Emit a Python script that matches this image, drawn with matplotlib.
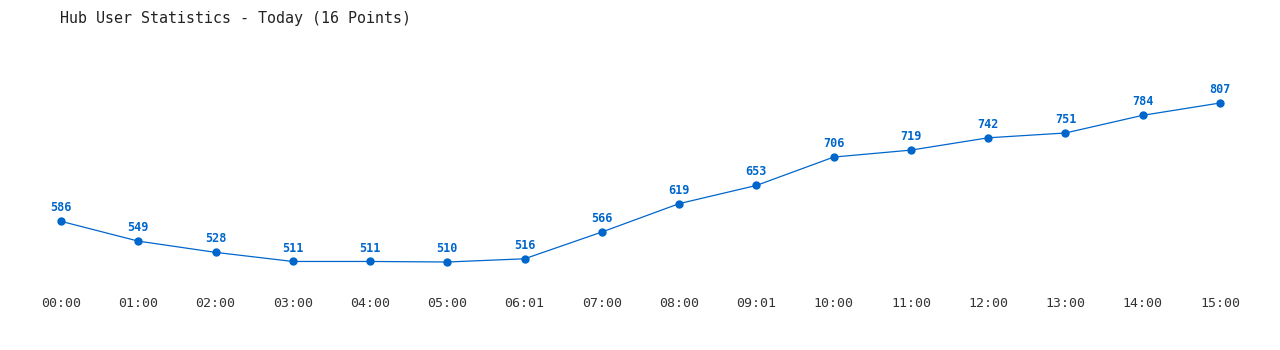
import matplotlib.pyplot as plt

times = ["00:00", "01:00", "02:00", "03:00", "04:00", "05:00", "06:01", "07:00",
         "08:00", "09:01", "10:00", "11:00", "12:00", "13:00", "14:00", "15:00"]
users = [586, 549, 528, 511, 511, 510, 516, 566, 619, 653, 706, 719, 742, 751, 784, 807]

blue = "#0066cc"
mono = ["DejaVu Sans Mono"]

W, H = 1280, 350
fig = plt.figure(figsize=(W / 100, H / 100), dpi=100)
# axes placed so first/last points and min/max values land where the reference has them
x0, x1 = 61, 1220
y_top, y_bot = 103, 262
ax = fig.add_axes([x0 / W, (H - y_bot) / H, (x1 - x0) / W, (y_bot - y_top) / H])

xs = list(range(len(times)))
ax.plot(xs, users, color=blue, linewidth=0.9, marker="o", markersize=5,
        clip_on=False, zorder=3)
for x, v in zip(xs, users):
    ax.annotate(str(v), (x, v), xytext=(0, 5), textcoords="offset points",
                ha="center", va="bottom", fontsize=8.5, fontweight="bold",
                color=blue, family=mono)

ax.set_xlim(0, len(times) - 1)
ax.set_ylim(min(users), max(users))
ax.set_xticks(xs)
ax.set_xticklabels(times, family=mono, fontsize=9.5, color="#333333")
ax.tick_params(axis="x", length=0, pad=25)
ax.set_yticks([])
for s in ax.spines.values():
    s.set_visible(False)
ax.patch.set_visible(False)

fig.text(60 / W, 1 - 18 / H, "Hub User Statistics - Today (16 Points)",
         family=mono, fontsize=10.8, color="#222222", va="center", ha="left")

fig.savefig("out.png", dpi=100)
